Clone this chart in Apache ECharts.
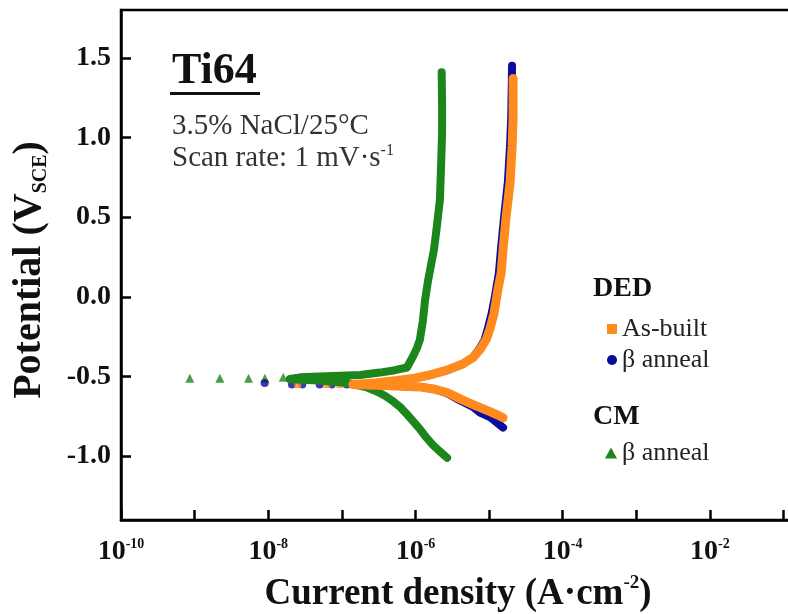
<!DOCTYPE html>
<html>
<head>
<meta charset="utf-8">
<script src="https://cdn.jsdelivr.net/npm/echarts@6/dist/echarts.min.js"></script>
<style>
html,body{margin:0;padding:0;background:#fff;}
#chart{width:788px;height:614px;}
</style>
</head>
<body>
<div id="chart"></div>
<script>
// ---------- data (current density A/cm2, potential V_SCE) ----------
const yTickValues = [-1.0, -0.5, 0.0, 0.5, 1.0, 1.5];

// CM beta anneal (green) – sweep order: cathodic end -> Ecorr band -> anodic end
const cmBetaCurrent = [2.69e-6, 2.15e-6, 1.73e-6, 1.39e-6, 1.15e-6, 9.25e-7, 7.43e-7, 6.15e-7, 4.79e-7, 3.85e-7, 2.99e-7, 2.26e-7, 1.50e-7, 9.4e-8, 5.0e-8, 2.69e-8, 1.96e-8,
  2.69e-8, 5.0e-8, 9.4e-8, 1.76e-7, 3.29e-7, 5.26e-7, 7.66e-7, 9.25e-7, 1.05e-6, 1.15e-6, 1.26e-6, 1.35e-6, 1.48e-6, 1.79e-6, 1.96e-6, 2.15e-6, 2.22e-6, 2.30e-6, 2.30e-6, 2.27e-6];
const cmBetaPotential = [-1.01, -0.97, -0.93, -0.88, -0.83, -0.78, -0.73, -0.69, -0.65, -0.62, -0.594, -0.57, -0.55, -0.535, -0.525, -0.52, -0.515,
  -0.505, -0.50, -0.495, -0.49, -0.475, -0.46, -0.443, -0.374, -0.32, -0.267, -0.15, -0.02, 0.10, 0.30, 0.45, 0.61, 0.80, 1.03, 1.20, 1.41];
const cmBetaSparseCurrent = [8.6e-10, 2.2e-9, 5.4e-9, 9.0e-9, 1.6e-8];
const cmBetaSparsePotential = [-0.51, -0.51, -0.51, -0.51, -0.505];

// DED beta anneal (blue)
const dedBetaCurrent = [1.55e-5, 1.29e-5, 1.03e-5, 7.55e-6, 6.05e-6, 4.03e-6, 2.69e-6, 1.84e-6, 1.15e-6, 5.60e-7, 2.81e-7, 1.50e-7,
  2.81e-7, 5.60e-7, 9.84e-7, 1.57e-6, 2.69e-6, 4.43e-6, 6.05e-6, 7.3e-6, 8.7e-6, 9.6e-6, 1.09e-5, 1.20e-5, 1.36e-5, 1.45e-5, 1.60e-5, 1.80e-5, 1.93e-5, 2.00e-5, 2.03e-5, 2.05e-5];
const dedBetaPotential = [-0.82, -0.79, -0.755, -0.726, -0.69, -0.65, -0.605, -0.58, -0.565, -0.56, -0.555, -0.55,
  -0.545, -0.53, -0.51, -0.49, -0.46, -0.42, -0.38, -0.33, -0.27, -0.20, -0.10, 0.0, 0.15, 0.30, 0.50, 0.72, 0.95, 1.13, 1.30, 1.45];
const dedBetaSparseCurrent = [8.95e-9, 2.1e-8, 2.9e-8, 5.0e-8, 7.3e-8, 1.17e-7];
const dedBetaSparsePotential = [-0.54, -0.55, -0.55, -0.55, -0.55, -0.55];

// DED as-built (orange)
const dedAsBuiltCurrent = [1.55e-5, 1.29e-5, 1.03e-5, 8.04e-6, 6.05e-6, 4.03e-6, 2.69e-6, 1.84e-6, 1.15e-6, 5.60e-7, 2.81e-7, 1.41e-7,
  2.81e-7, 5.60e-7, 9.84e-7, 1.57e-6, 2.69e-6, 4.43e-6, 6.05e-6, 7.55e-6, 9.1e-6, 1.03e-5, 1.17e-5, 1.32e-5, 1.46e-5, 1.55e-5, 1.70e-5, 1.93e-5, 2.06e-5, 2.12e-5, 2.12e-5];
const dedAsBuiltPotential = [-0.758, -0.74, -0.72, -0.70, -0.676, -0.64, -0.60, -0.58, -0.565, -0.56, -0.555, -0.55,
  -0.54, -0.525, -0.51, -0.49, -0.46, -0.42, -0.38, -0.33, -0.27, -0.20, -0.10, 0.047, 0.15, 0.30, 0.50, 0.72, 0.95, 1.13, 1.37];
const dedAsBuiltSparseCurrent = [2.52e-8, 6.25e-8, 9.4e-8];
const dedAsBuiltSparsePotential = [-0.55, -0.55, -0.55];

const seriesNames = ['DED As-built', 'DED β anneal', 'CM β anneal'];
// ---------------------------------------------------------------

const FONT = '"Liberation Serif", "Times New Roman", serif';
const C_ORANGE = '#FF8A1E', C_BLUE = '#0B0B9C', C_GREEN = '#1C861C';
const pairs = (c, p) => c.map((v, i) => [v, p[i]]);

const chart = echarts.init(document.getElementById('chart'), null, {renderer: 'canvas'});

function lineSeries(name, data, color, width) {
  return {name, type: 'line', data, showSymbol: false, symbol: 'none', silent: true,
    lineStyle: {color, width, cap: 'round', join: 'round'}, itemStyle: {color}};
}
function dotSeries(name, data, color, symbol, size) {
  return {name, type: 'scatter', data, symbol, symbolSize: size, silent: true, itemStyle: {color}};
}

const option = {
  animation: false,
  backgroundColor: '#fff',
  grid: {left: 121, top: 10, right: -47, bottom: 94, show: true, borderColor: '#000', borderWidth: 2.5,
    containLabel: false, outerBoundsMode: 'none'},
  xAxis: {
    type: 'log', logBase: 10, min: 1e-10, max: 0.5, splitNumber: 10,
    axisLine: {show: true, onZero: false, lineStyle: {color: '#000', width: 2.5}},
    axisTick: {show: true, inside: true, length: 10, lineStyle: {color: '#000', width: 2.5}},
    splitLine: {show: false},
    axisLabel: {
      margin: 17,
      formatter: function (v) {
        const e = Math.round(Math.log10(v));
        if (e % 2 !== 0 || Math.abs(Math.log10(v) - e) > 0.01) return '';
        return '{b|10}{s|' + e + '}';
      },
      rich: {
        b: {fontFamily: FONT, fontWeight: 'bold', fontSize: 28, color: '#111', lineHeight: 30},
        s: {fontFamily: FONT, fontWeight: 'bold', fontSize: 14, color: '#111', verticalAlign: 'top', lineHeight: 14}
      }
    }
  },
  yAxis: {
    type: 'value', min: -1.4, max: 1.8,
    axisLine: {show: true, onZero: false, lineStyle: {color: '#000', width: 2.5}},
    axisTick: {show: true, inside: true, length: 10, customValues: yTickValues, lineStyle: {color: '#000', width: 2.5}},
    splitLine: {show: false},
    axisLabel: {
      customValues: yTickValues, margin: 10,
      fontFamily: FONT, fontWeight: 'bold', fontSize: 28, color: '#111',
      formatter: v => v.toFixed(1)
    }
  },
  legend: [
    {
      data: [{name: seriesNames[0], icon: 'rect', itemStyle: {color: C_ORANGE}}, {name: seriesNames[1], icon: 'circle', itemStyle: {color: C_BLUE}}],
      orient: 'vertical', left: 602, top: 311, itemWidth: 10, itemHeight: 10, itemGap: 5, selectedMode: false,
      formatter: n => n.replace(/^(DED|CM) /, ''),
      textStyle: {fontFamily: FONT, fontSize: 26, color: '#222', lineHeight: 26}
    },
    {
      data: [{name: seriesNames[2], icon: 'triangle', itemStyle: {color: C_GREEN}}],
      orient: 'vertical', left: 600, top: 435, itemWidth: 12, itemHeight: 11, selectedMode: false,
      formatter: n => n.replace(/^(DED|CM) /, ''),
      textStyle: {fontFamily: FONT, fontSize: 26, color: '#222', lineHeight: 26}
    }
  ],
  graphic: [
    {type: 'text', x: 172, y: 72, style: {text: 'Ti64', font: 'bold 44px ' + FONT, fill: '#111', align: 'left', verticalAlign: 'middle'}},
    {type: 'rect', shape: {x: 170, y: 92, width: 90, height: 3}, style: {fill: '#111'}},
    {type: 'text', x: 172, y: 126, style: {text: '3.5% NaCl/25°C', font: '29px ' + FONT, fill: '#333', align: 'left', verticalAlign: 'middle'}},
    {type: 'text', x: 172, y: 158, style: {
      text: '{m|Scan rate: 1 mV·s}{s|-1}', align: 'left', verticalAlign: 'middle',
      rich: {m: {font: '29px ' + FONT, fill: '#333', lineHeight: 30}, s: {font: '16px ' + FONT, fill: '#333', verticalAlign: 'top', lineHeight: 16}}}},
    {type: 'text', x: 593, y: 289, style: {text: 'DED', font: 'bold 28px ' + FONT, fill: '#111', align: 'left', verticalAlign: 'middle'}},
    {type: 'text', x: 593, y: 417, style: {text: 'CM', font: 'bold 28px ' + FONT, fill: '#111', align: 'left', verticalAlign: 'middle'}},
    {type: 'text', x: 458, y: 594, style: {
      text: '{m|Current density (A·cm}{s|-2}{m|)}', align: 'center', verticalAlign: 'middle',
      rich: {m: {font: 'bold 37px ' + FONT, fill: '#111', lineHeight: 40}, s: {font: 'bold 19px ' + FONT, fill: '#111', verticalAlign: 'top', lineHeight: 19}}}},
    {type: 'text', x: 30, y: 270, rotation: Math.PI / 2, style: {
      text: '{m|Potential (V}{s|SCE}{m|)}', align: 'center', verticalAlign: 'middle',
      rich: {m: {font: 'bold 40px ' + FONT, fill: '#111', lineHeight: 42}, s: {font: 'bold 20px ' + FONT, fill: '#111', verticalAlign: 'bottom', lineHeight: 20}}}}
  ],
  series: [
    lineSeries(seriesNames[2], pairs(cmBetaCurrent, cmBetaPotential), C_GREEN, 8),
    dotSeries(seriesNames[2], pairs(cmBetaSparseCurrent, cmBetaSparsePotential), C_GREEN, 'triangle', 9),
    lineSeries(seriesNames[1], pairs(dedBetaCurrent, dedBetaPotential), C_BLUE, 8),
    dotSeries(seriesNames[1], pairs(dedBetaSparseCurrent, dedBetaSparsePotential), C_BLUE, 'circle', 8),
    lineSeries(seriesNames[0], pairs(dedAsBuiltCurrent, dedAsBuiltPotential), C_ORANGE, 9),
    dotSeries(seriesNames[0], pairs(dedAsBuiltSparseCurrent, dedAsBuiltSparsePotential), C_ORANGE, 'rect', 7)
  ]
};
chart.setOption(option);
</script>
</body>
</html>
